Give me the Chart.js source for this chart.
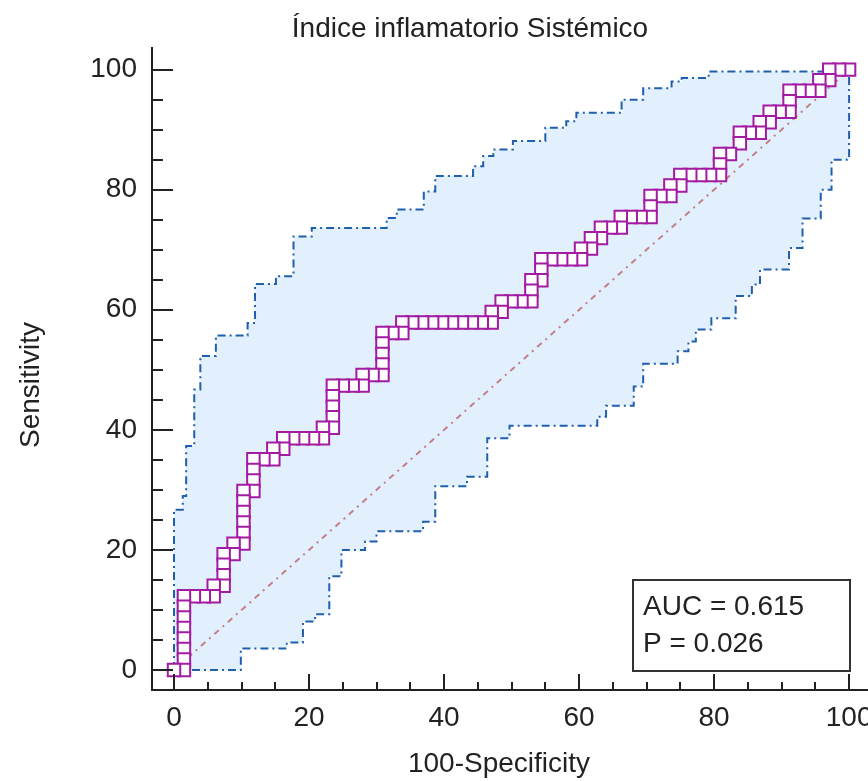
<!DOCTYPE html>
<html>
<head>
<meta charset="utf-8">
<script src="https://cdn.jsdelivr.net/npm/chart.js@4.4.1/dist/chart.umd.min.js"></script>
<style>
  html, body { margin: 0; padding: 0; background: #fff; overflow: hidden; }
  canvas { display: block; }
</style>
</head>
<body>
<canvas id="roc" width="868" height="781"></canvas>
<script>
// ROC points (100-Specificity, Sensitivity), in %
const rocFpr = [
  0, 1.47, 1.47, 1.47, 1.47, 1.47, 1.47, 1.47, 1.47, 2.94,
  4.41, 5.88, 5.88, 7.35, 7.35, 7.35, 7.35, 8.82, 8.82, 10.29,
  10.29, 10.29, 10.29, 10.29, 10.29, 11.76, 11.76, 11.76, 11.76, 13.24,
  14.71, 14.71, 16.18, 16.18, 17.65, 19.12, 20.59, 22.06, 22.06, 23.53,
  23.53, 23.53, 23.53, 23.53, 25.00, 26.47, 27.94, 27.94, 29.41, 30.88,
  30.88, 30.88, 30.88, 30.88, 32.35, 33.82, 33.82, 35.29, 36.76, 38.24,
  39.71, 41.18, 42.65, 44.12, 45.59, 47.06, 47.06, 48.53, 48.53, 50.00,
  51.47, 52.94, 52.94, 52.94, 54.41, 54.41, 54.41, 55.88, 57.35, 58.82,
  60.29, 60.29, 61.76, 61.76, 63.24, 63.24, 64.71, 66.18, 66.18, 67.65,
  69.12, 70.59, 70.59, 70.59, 72.06, 73.53, 73.53, 75.00, 75.00, 76.47,
  77.94, 79.41, 80.88, 80.88, 80.88, 82.35, 83.82, 83.82, 85.29, 86.76,
  86.76, 88.24, 88.24, 89.71, 91.18, 91.18, 91.18, 92.65, 94.12, 95.59,
  95.59, 97.06, 97.06, 98.53, 100
];
const rocSens = [
  0, 0, 1.75, 3.51, 5.26, 7.02, 8.77, 10.53, 12.28, 12.28,
  12.28, 12.28, 14.04, 14.04, 15.79, 17.54, 19.30, 19.30, 21.05, 21.05,
  22.81, 24.56, 26.32, 28.07, 29.82, 29.82, 31.58, 33.33, 35.09, 35.09,
  35.09, 36.84, 36.84, 38.60, 38.60, 38.60, 38.60, 38.60, 40.35, 40.35,
  42.11, 43.86, 45.61, 47.37, 47.37, 47.37, 47.37, 49.12, 49.12, 49.12,
  50.88, 52.63, 54.39, 56.14, 56.14, 56.14, 57.89, 57.89, 57.89, 57.89,
  57.89, 57.89, 57.89, 57.89, 57.89, 57.89, 59.65, 59.65, 61.40, 61.40,
  61.40, 61.40, 63.16, 64.91, 64.91, 66.67, 68.42, 68.42, 68.42, 68.42,
  68.42, 70.18, 70.18, 71.93, 71.93, 73.68, 73.68, 73.68, 75.44, 75.44,
  75.44, 75.44, 77.19, 78.95, 78.95, 78.95, 80.70, 80.70, 82.46, 82.46,
  82.46, 82.46, 82.46, 84.21, 85.96, 85.96, 87.72, 89.47, 89.47, 89.47,
  91.23, 91.23, 92.98, 92.98, 92.98, 94.74, 96.49, 96.49, 96.49, 96.49,
  98.25, 98.25, 100, 100, 100
];

// confidence band steps
const upperFpr = [0, 1.3, 1.8, 3.0, 3.9, 6.2, 10.9, 12.0, 15.1, 17.7, 20.4, 31.5, 33.0, 37.0, 38.7,
  44.3, 45.8, 47.3, 50.2, 55.0, 58.1, 59.6, 66.3, 69.5, 73.7, 75.2, 79.2, 100];
const upperSens = [0, 26.7, 29.0, 37.3, 46.7, 52.3, 55.7, 57.8, 64.3, 65.6, 72.2, 73.6, 75.3, 76.7, 79.7,
  82.3, 83.9, 85.6, 86.7, 88.1, 90.3, 91.4, 92.8, 95.0, 96.9, 98.0, 98.6, 99.7];
const lowerFpr = [0, 9.9, 16.7, 19.1, 20.9, 23.0, 24.8, 28.3, 30.0, 36.9, 38.7, 43.4, 46.4, 49.7, 62.7,
  64.0, 68.1, 69.5, 74.6, 76.2, 77.3, 79.6, 83.2, 85.6, 86.8, 91.1, 93.1, 95.8, 97.4, 100];
const lowerSens = [0, 3.6, 4.6, 8.1, 9.3, 15.6, 20.0, 21.4, 23.1, 24.7, 30.6, 32.2, 38.6, 40.7, 42.2,
  44.0, 47.2, 51.0, 53.1, 54.7, 56.7, 58.6, 62.3, 64.2, 66.7, 70.3, 75.2, 80.0, 85.0, 100];

const diagFpr = [0, 100];
const diagSens = [0, 100];

const tickValues = [0, 20, 40, 60, 80, 100];
const chartTitle = 'Índice inflamatorio Sistémico';
const xTitle = '100-Specificity';
const yTitle = 'Sensitivity';
const statLines = ['AUC = 0.615', 'P = 0.026'];

const FONT = "'Liberation Sans', Arial, sans-serif";
const INK = '#222';

// upper bound: rises first, then runs right; lower bound: runs right, then rises
function stepUpThenRight(xs, ys) {
  const pts = [{x: xs[0], y: ys[0]}];
  for (let i = 1; i < xs.length; i++) {
    pts.push({x: xs[i - 1], y: ys[i]});
    pts.push({x: xs[i], y: ys[i]});
  }
  return pts;
}
function stepRightThenUp(xs, ys) {
  const pts = [{x: xs[0], y: ys[0]}];
  for (let i = 1; i < xs.length; i++) {
    pts.push({x: xs[i], y: ys[i - 1]});
    pts.push({x: xs[i], y: ys[i]});
  }
  return pts;
}

// boxes near the origin sit on top, so feed them in reverse
const rocPoints = rocFpr.map((x, i) => ({x, y: rocSens[i]})).reverse();

const decor = {
  id: 'decor',
  afterDraw(chart) {
    const {ctx, chartArea: area, scales: {x, y}} = chart;
    ctx.save();

    // inward tick marks, minor every 5
    ctx.strokeStyle = INK;
    ctx.lineWidth = 2;
    for (let v = 0; v <= 100; v += 5) {
      const major = tickValues.includes(v);
      const px = Math.round(x.getPixelForValue(v));
      ctx.beginPath();
      ctx.moveTo(px, area.bottom);
      ctx.lineTo(px, area.bottom - (major ? 16 : 8));
      ctx.stroke();
      const py = Math.round(y.getPixelForValue(v));
      ctx.beginPath();
      ctx.moveTo(area.left, py);
      ctx.lineTo(area.left + (major ? 21 : 11), py);
      ctx.stroke();
    }

    ctx.fillStyle = INK;
    ctx.font = '28px ' + FONT;
    ctx.textBaseline = 'middle';
    ctx.textAlign = 'center';
    ctx.fillText(chartTitle, 470, 29);
    ctx.fillText(xTitle, 499, 764);

    ctx.save();
    ctx.translate(31, 385);
    ctx.rotate(-Math.PI / 2);
    ctx.fillText(yTitle, 0, 0);
    ctx.restore();

    // AUC box
    ctx.fillStyle = '#fff';
    ctx.fillRect(633, 580, 217, 91);
    ctx.strokeStyle = '#333';
    ctx.lineWidth = 2;
    ctx.strokeRect(633, 580, 217, 91);
    ctx.fillStyle = INK;
    ctx.textAlign = 'left';
    ctx.fillText(statLines[0], 643, 607);
    ctx.fillText(statLines[1], 643, 644);

    ctx.restore();
  }
};

const bandLine = {
  showLine: true,
  pointRadius: 0,
  pointHoverRadius: 0,
  borderColor: '#1f5fae',
  borderWidth: 2,
  borderDash: [8, 4, 2, 4],
  fill: 'origin'
};

new Chart(document.getElementById('roc'), {
  type: 'scatter',
  data: {
    datasets: [
      {
        label: 'ROC',
        data: rocPoints,
        showLine: false,
        pointStyle: 'rect',
        pointRadius: 8.8,
        pointHoverRadius: 8.8,
        pointBorderWidth: 2,
        pointBorderColor: '#a31aa3',
        pointBackgroundColor: '#ffffff'
      },
      {
        label: 'Reference',
        data: diagFpr.map((x, i) => ({x, y: diagSens[i]})),
        showLine: true,
        pointRadius: 0,
        borderColor: '#c47f89',
        borderWidth: 2,
        borderDash: [6, 5, 2, 5]
      },
      Object.assign({label: 'Lower', data: stepRightThenUp(lowerFpr, lowerSens), backgroundColor: '#ffffff'}, bandLine),
      Object.assign({label: 'Upper', data: stepUpThenRight(upperFpr, upperSens), backgroundColor: '#e2effd'}, bandLine)
    ]
  },
  options: {
    responsive: false,
    animation: false,
    devicePixelRatio: 1,
    layout: { autoPadding: false, padding: { top: 48, right: 0, bottom: 0, left: 0 } },
    plugins: {
      legend: { display: false },
      tooltip: { enabled: false },
      title: { display: false }
    },
    scales: {
      x: {
        type: 'linear',
        min: -3.26,
        max: 102.8,
        afterFit: s => { s.height = 91; s.paddingLeft = 0; s.paddingRight = 0; },
        afterBuildTicks: s => { s.ticks = tickValues.map(v => ({value: v})); },
        grid: { display: false, drawTicks: false },
        border: { display: true, color: INK, width: 2 },
        ticks: { font: { family: FONT, size: 28 }, color: INK, padding: 11, maxRotation: 0, autoSkip: false }
      },
      y: {
        type: 'linear',
        min: -3.33,
        max: 103.6,
        afterFit: s => { s.width = 152; s.paddingTop = 0; s.paddingBottom = 0; },
        afterBuildTicks: s => { s.ticks = tickValues.map(v => ({value: v})); },
        grid: { display: false, drawTicks: false },
        border: { display: true, color: INK, width: 2 },
        ticks: { font: { family: FONT, size: 28 }, color: INK, padding: 15, autoSkip: false }
      }
    }
  },
  plugins: [decor]
});
</script>
</body>
</html>
